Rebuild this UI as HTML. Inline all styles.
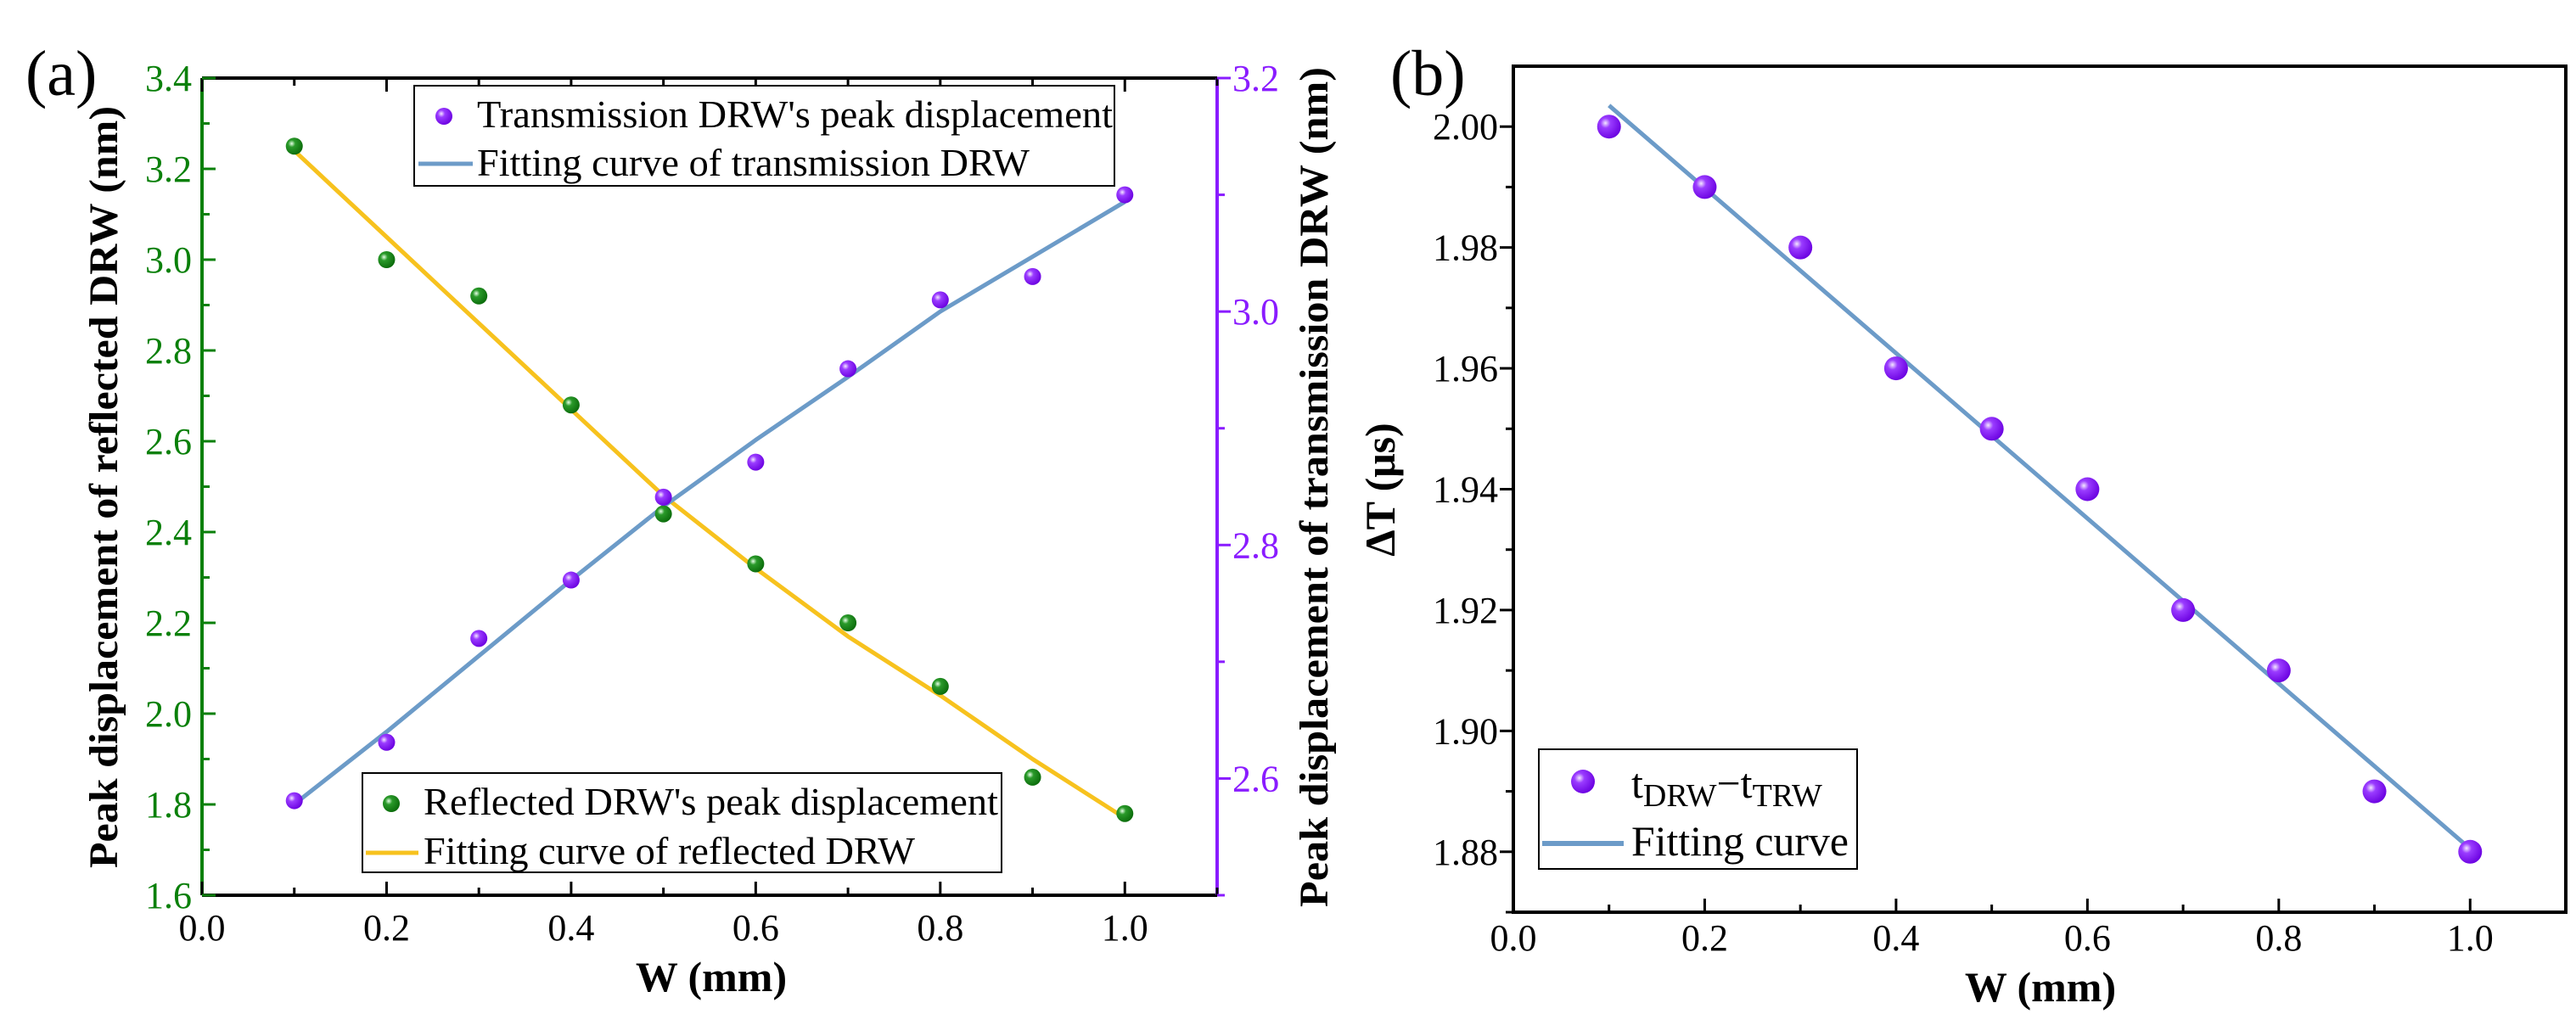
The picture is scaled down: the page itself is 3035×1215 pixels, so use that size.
<!DOCTYPE html>
<html><head><meta charset="utf-8"><style>
html,body{margin:0;padding:0;background:#fff;}
svg, svg text{font-family:"Liberation Serif","Times New Roman",serif;}
</style></head><body>
<svg id="fig" width="3035" height="1210" viewBox="0 0 3035 1210" xmlns="http://www.w3.org/2000/svg" font-family="Liberation Serif, serif">
<defs>
<radialGradient id="gG" cx="0.35" cy="0.35" r="0.7"><stop offset="0" stop-color="#e8ffe8"/><stop offset="0.3" stop-color="#2a9a2a"/><stop offset="1" stop-color="#0a6a0a"/></radialGradient>
<radialGradient id="gP" cx="0.35" cy="0.35" r="0.7"><stop offset="0" stop-color="#f4e8ff"/><stop offset="0.3" stop-color="#9a3cff"/><stop offset="1" stop-color="#6a00e0"/></radialGradient>
</defs>
<g id="pa"></g>
<g id="pb"></g>
</svg>
<script>
const xsA = [0.1,0.2,0.3,0.4,0.5,0.6,0.7,0.8,0.9,1.0];
const reflected = [3.25,3.0,2.92,2.68,2.44,2.33,2.20,2.06,1.86,1.78];
const reflectedFit = [3.24,3.05,2.86,2.67,2.48,2.32,2.17,2.04,1.90,1.77];
const transmission = [2.581,2.631,2.72,2.77,2.841,2.871,2.951,3.01,3.03,3.10];
const transmissionFit = [2.578,2.64,2.705,2.77,2.833,2.89,2.944,3.0,3.047,3.094];
const xTicks = ["0.0","0.2","0.4","0.6","0.8","1.0"];
const leftTicks = ["1.6","1.8","2.0","2.2","2.4","2.6","2.8","3.0","3.2","3.4"];
const rightTicks = ["2.6","2.8","3.0","3.2"];
const xsB = [0.1,0.2,0.3,0.4,0.5,0.6,0.7,0.8,0.9,1.0];
const deltaT = [2.00,1.99,1.98,1.96,1.95,1.94,1.92,1.91,1.89,1.88];
const fitBEnds = [2.0035,1.8805];
const bTicks = ["1.88","1.90","1.92","1.94","1.96","1.98","2.00"];

const NS="http://www.w3.org/2000/svg";
const FF="Liberation Serif, serif";
function el(parent,tag,attrs,text){const e=document.createElementNS(NS,tag);for(const k in attrs)e.setAttribute(k,attrs[k]);if(tag==='text')e.setAttribute('font-family',FF);if(text!==undefined)e.textContent=text;parent.appendChild(e);return e;}

// ---------- Panel A ----------
const A=document.getElementById('pa');
const ax={l:238,r:1434,t:92,b:1055};
const xA=v=>ax.l+(v-0)/(1.1)*(ax.r-ax.l);
const yL=v=>ax.b-(v-1.6)/(3.4-1.6)*(ax.b-ax.t);
const yR=v=>ax.b-(v-2.5)/(3.2-2.5)*(ax.b-ax.t);
let t=el(A,'text',{x:30,y:112,'font-size':76},'(a)');

let ln=el(A,'line',{x1:ax.l,y1:ax.t,x2:ax.r,y2:ax.t,stroke:'#000','stroke-width':4});

ln=el(A,'line',{x1:ax.l,y1:ax.b,x2:ax.r,y2:ax.b,stroke:'#000','stroke-width':4});

ln=el(A,'line',{x1:ax.l,y1:ax.t,x2:ax.l,y2:ax.b,stroke:'#0a800a','stroke-width':4});

ln=el(A,'line',{x1:ax.r,y1:ax.t,x2:ax.r,y2:ax.b,stroke:'#8a1cff','stroke-width':4});

for(let i=0;i<=11;i++){const v=i*0.1,x=xA(v),L=i%2==0?16:9;
 el(A,'line',{x1:x,y1:ax.b,x2:x,y2:ax.b-L,stroke:'#000','stroke-width':3});
 el(A,'line',{x1:x,y1:ax.t,x2:x,y2:ax.t+L,stroke:'#000','stroke-width':3});}
xTicks.forEach(s=>{t=el(A,'text',{x:xA(parseFloat(s)),y:1108,'font-size':44,'text-anchor':'middle'},s);
 });
for(let i=0;i<=18;i++){const v=1.6+i*0.1,y=yL(v),L=i%2==0?16:9;
 el(A,'line',{x1:ax.l,y1:y,x2:ax.l+L,y2:y,stroke:'#0a800a','stroke-width':3});}
leftTicks.forEach(s=>{t=el(A,'text',{x:226,y:yL(parseFloat(s))+15,'font-size':44,'text-anchor':'end',fill:'#0a800a'},s);
 });
for(let i=0;i<=7;i++){const v=2.5+i*0.1,y=yR(v),L=i%2==1?16:9;
 el(A,'line',{x1:ax.r,y1:y,x2:ax.r+L,y2:y,stroke:'#8a1cff','stroke-width':3});}
rightTicks.forEach(s=>{t=el(A,'text',{x:1452,y:yR(parseFloat(s))+15,'font-size':44,fill:'#8a1cff'},s);
 });
t=el(A,'text',{x:838,y:1168,'font-size':50,'font-weight':'bold','text-anchor':'middle'},'W (mm)');

t=el(A,'text',{x:0,y:0,'font-size':48,'font-weight':'bold','text-anchor':'middle',transform:'translate(138,574) rotate(-90)',textLength:898,lengthAdjust:'spacingAndGlyphs'},'Peak displacement of reflected DRW (nm)');

t=el(A,'text',{x:0,y:0,'font-size':48,'font-weight':'bold','text-anchor':'middle',transform:'translate(1564,574) rotate(-90)',textLength:990,lengthAdjust:'spacingAndGlyphs'},'Peak displacement of transmission DRW (nm)');

let p=el(A,'polyline',{points:xsA.map((x,i)=>xA(x)+','+yL(reflectedFit[i])).join(' '),fill:'none',stroke:'#f7c21e','stroke-width':5,'stroke-linejoin':'round'});

p=el(A,'polyline',{points:xsA.map((x,i)=>xA(x)+','+yR(transmissionFit[i])).join(' '),fill:'none',stroke:'#6c9bc8','stroke-width':5,'stroke-linejoin':'round'});

xsA.forEach((x,i)=>{let c=el(A,'circle',{cx:xA(x),cy:yL(reflected[i]),r:10,fill:'url(#gG)'});
 });
xsA.forEach((x,i)=>{let c=el(A,'circle',{cx:xA(x),cy:yR(transmission[i]),r:10,fill:'url(#gP)'});
 });
let lg=el(A,'g',{});
el(lg,'rect',{x:488,y:101,width:825,height:118,fill:'#fff',stroke:'#000','stroke-width':2});
el(lg,'circle',{cx:523,cy:137,r:10,fill:'url(#gP)'});
el(lg,'text',{x:562,y:150,'font-size':46,textLength:749,lengthAdjust:'spacingAndGlyphs'},"Transmission DRW's peak displacement");
el(lg,'line',{x1:493,y1:193,x2:557,y2:193,stroke:'#6c9bc8','stroke-width':5});
el(lg,'text',{x:562,y:207,'font-size':46,textLength:651,lengthAdjust:'spacingAndGlyphs'},"Fitting curve of transmission DRW");
lg=el(A,'g',{});
el(lg,'rect',{x:427,y:911,width:753,height:117,fill:'#fff',stroke:'#000','stroke-width':2});
el(lg,'circle',{cx:461,cy:947,r:10,fill:'url(#gG)'});
el(lg,'text',{x:499,y:960,'font-size':46,textLength:677,lengthAdjust:'spacingAndGlyphs'},"Reflected DRW's peak displacement");
el(lg,'line',{x1:431,y1:1005,x2:493,y2:1005,stroke:'#f7c21e','stroke-width':5});
el(lg,'text',{x:499,y:1018,'font-size':46,textLength:579,lengthAdjust:'spacingAndGlyphs'},"Fitting curve of reflected DRW");

// ---------- Panel B ----------
const B=document.getElementById('pb');
const bx={l:1783,r:3023,t:78,b:1075};
const xB=v=>bx.l+v/1.1*(bx.r-bx.l);
const yB=v=>bx.b-(v-1.87)/(2.01-1.87)*(bx.b-bx.t);
t=el(B,'text',{x:1638,y:112,'font-size':76},'(b)');

let fr=el(B,'rect',{x:bx.l,y:bx.t,width:bx.r-bx.l,height:bx.b-bx.t,fill:'none',stroke:'#000','stroke-width':4});

for(let i=0;i<=11;i++){const x=xB(i*0.1),L=i%2==0?16:9;
 el(B,'line',{x1:x,y1:bx.b,x2:x,y2:bx.b-L,stroke:'#000','stroke-width':3});}
xTicks.forEach(s=>{t=el(B,'text',{x:xB(parseFloat(s)),y:1120,'font-size':44,'text-anchor':'middle'},s);
 });
for(let i=0;i<=13;i++){const v=1.87+i*0.01,y=yB(v),L=i%2==1?16:9;
 el(B,'line',{x1:bx.l,y1:y,x2:bx.l-L,y2:y,stroke:'#000','stroke-width':3});}
bTicks.forEach(s=>{t=el(B,'text',{x:1765,y:yB(parseFloat(s))+15,'font-size':44,'text-anchor':'end'},s);
 });
t=el(B,'text',{x:2404,y:1180,'font-size':50,'font-weight':'bold','text-anchor':'middle'},'W (mm)');

t=el(B,'text',{x:0,y:0,'font-size':50,'font-weight':'bold','text-anchor':'middle',transform:'translate(1643,577) rotate(-90)'},'ΔT (μs)');

p=el(B,'line',{x1:xB(xsB[0]),y1:yB(fitBEnds[0]),x2:xB(xsB[xsB.length-1]),y2:yB(fitBEnds[1]),stroke:'#6c9bc8','stroke-width':5});

xsB.forEach((x,i)=>{let c=el(B,'circle',{cx:xB(x),cy:yB(deltaT[i]),r:14,fill:'url(#gP)'});
 });
lg=el(B,'g',{});
el(lg,'rect',{x:1813,y:883,width:375,height:141,fill:'#fff',stroke:'#000','stroke-width':2});
el(lg,'circle',{cx:1865,cy:921,r:14,fill:'url(#gP)'});
const tt=el(lg,'text',{x:1922,y:940,'font-size':50});
el(tt,'tspan',{},'t');el(tt,'tspan',{'font-size':38,dy:10},'DRW');el(tt,'tspan',{dy:-10},'−t');el(tt,'tspan',{'font-size':38,dy:10},'TRW');
el(lg,'line',{x1:1817,y1:994,x2:1913,y2:994,stroke:'#6c9bc8','stroke-width':6});
el(lg,'text',{x:1922,y:1008,'font-size':50,textLength:256,lengthAdjust:'spacingAndGlyphs'},'Fitting curve');
</script>
</body></html>
